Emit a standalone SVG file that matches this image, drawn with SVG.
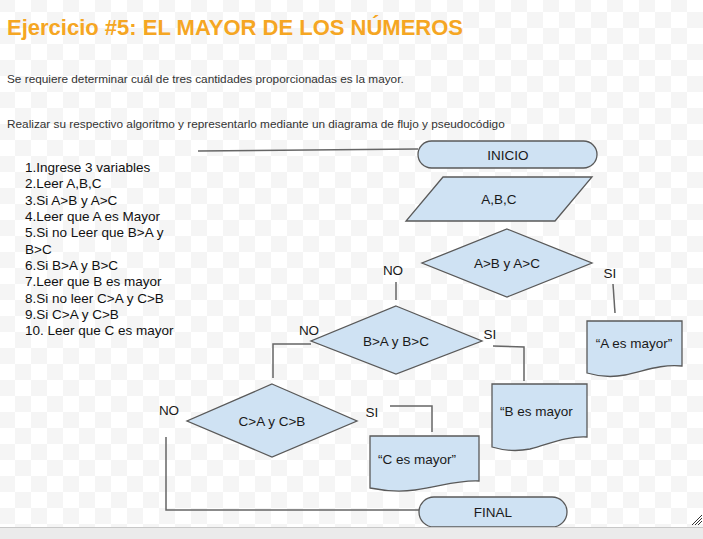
<svg xmlns="http://www.w3.org/2000/svg" width="703" height="539" viewBox="0 0 703 539">
<defs>
<pattern id="chk" patternUnits="userSpaceOnUse" x="31" y="28" width="32" height="32">
<rect width="32" height="32" fill="#ffffff"/>
<rect width="16" height="16" fill="#f5f5f5"/>
<rect x="16" y="16" width="16" height="16" fill="#f5f5f5"/>
</pattern>
</defs>
<style>
.t{font-family:"Liberation Sans",Arial,sans-serif;}
.title{font-size:22px;font-weight:bold;fill:#f5a623;}
.body{font-size:11.8px;fill:#333333;}
.list{font-size:13.5px;fill:#111111;}
.shape{fill:#cfe2f3;stroke:#595959;stroke-width:1.3;}
.lbl{font-size:13.5px;fill:#1a1a1a;}
.cn{fill:none;stroke:#666666;stroke-width:1.5;}
</style>
<rect width="703" height="539" fill="url(#chk)"/>
<text class="t title" x="7" y="35">Ejercicio #5: EL MAYOR DE LOS NÚMEROS</text>
<text class="t body" x="7" y="83">Se requiere determinar cuál de tres cantidades proporcionadas es la mayor.</text>
<text class="t body" x="7" y="128">Realizar su respectivo algoritmo y representarlo mediante un diagrama de flujo y pseudocódigo</text>
<g id="pseudocode" class="t list">
<text x="25" y="172">1.Ingrese 3 variables</text>
<text x="25" y="188.3">2.Leer A,B,C</text>
<text x="25" y="204.6">3.Si A&gt;B y A&gt;C</text>
<text x="25" y="221">4.Leer que A es Mayor</text>
<text x="25" y="237.3">5.Si no Leer que B&gt;A y</text>
<text x="25" y="253.6">B&gt;C</text>
<text x="25" y="270">6.Si B&gt;A y B&gt;C</text>
<text x="25" y="286.3">7.Leer que B es mayor</text>
<text x="25" y="302.6">8.Si no leer C&gt;A y C&gt;B</text>
<text x="25" y="319">9.Si C&gt;A y C&gt;B</text>
<text x="25" y="335.3">10. Leer que C es mayor</text>
</g>
<g id="connectors">
<path class="cn" d="M198,151 L418,149"/>
<path class="cn" d="M396,282 L396,300"/>
<path class="cn" d="M613,284 L615,313"/>
<path class="cn" d="M311,344 L273,344 L273,378"/>
<path class="cn" d="M493,346 L524,347 L524,381"/>
<path class="cn" d="M166,437 L166,510 L420,510"/>
<path class="cn" d="M390,406 L432,406 L432,432"/>
</g>
<g id="labels" class="t lbl">
<text x="393" y="275" text-anchor="middle">NO</text>
<text x="610" y="278" text-anchor="middle">SI</text>
<text x="309" y="335" text-anchor="middle">NO</text>
<text x="490" y="339" text-anchor="middle">SI</text>
<text x="169" y="415" text-anchor="middle">NO</text>
<text x="372" y="417" text-anchor="middle">SI</text>
</g>
<g id="inicio">
<rect class="shape" x="418" y="141" width="179" height="27" rx="13.5" ry="13.5"/>
<text class="t lbl" x="508" y="159.5" text-anchor="middle">INICIO</text>
</g>
<g id="input">
<polygon class="shape" points="443,177 592,177 555,221 406,221"/>
<text class="t lbl" x="499" y="204" text-anchor="middle">A,B,C</text>
</g>
<g id="dec1">
<polygon class="shape" points="507,229 592,263 507,297 422,263"/>
<text class="t lbl" x="507" y="268" text-anchor="middle">A&gt;B y A&gt;C</text>
</g>
<g id="outA">
<path class="shape" d="M587,321 L682,321 L682,366 C660,364 645,371 625,375 C610,378 597,376 587,373 Z"/>
<text class="t lbl" x="634" y="348" text-anchor="middle">“A es mayor”</text>
</g>
<g id="dec2">
<polygon class="shape" points="396,306 482,341 396,374 311,341"/>
<text class="t lbl" x="396" y="346" text-anchor="middle">B&gt;A y B&gt;C</text>
</g>
<g id="outB">
<path class="shape" d="M492,384 L587,384 L587,437 C565,436 550,444 530,449 C515,452 502,450 492,447 Z"/>
<text class="t lbl" x="500" y="416">“B es mayor</text>
</g>
<g id="dec3">
<polygon class="shape" points="272,384 357,421 272,457 187,421"/>
<text class="t lbl" x="272" y="426" text-anchor="middle">C&gt;A y C&gt;B</text>
</g>
<g id="outC">
<path class="shape" d="M370,436 L479,436 L479,481 C455,480 440,487 415,490 C400,492 385,491 370,488 Z"/>
<text class="t lbl" x="378" y="464">“C es mayor”</text>
</g>
<g id="final">
<rect class="shape" x="419" y="497" width="148" height="30" rx="15" ry="15"/>
<text class="t lbl" x="493" y="517" text-anchor="middle">FINAL</text>
</g>
<rect x="0" y="527" width="703" height="12" fill="#ebebeb"/>
<line x1="0" y1="527.5" x2="703" y2="527.5" stroke="#c8c8c8" stroke-width="1"/>
<g stroke="#333333" stroke-width="1">
<line x1="692" y1="525" x2="702" y2="515"/>
<line x1="695" y1="525" x2="702" y2="518"/>
<line x1="698" y1="525" x2="702" y2="521"/>
</g>
</svg>
